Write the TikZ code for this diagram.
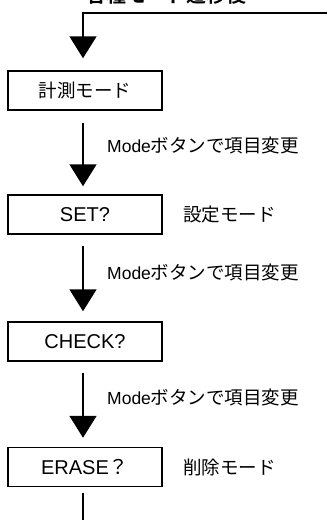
\documentclass[tikz,border=0pt]{standalone}
\usepackage{fontspec}
\setmainfont{Liberation Sans}
\newfontfamily\jp{Noto Sans CJK JP}
\newfontfamily\jpb{Noto Sans CJK JP Bold}
\usetikzlibrary{arrows.meta}
\begin{document}
\begin{tikzpicture}[x=1pt,y=-1pt,
  modebox/.style={draw,line width=1.5pt,minimum width=154pt,minimum height=39pt,inner sep=0pt,font=\fontsize{20}{23}\selectfont},
  flow/.style={line width=2pt,-{Triangle[width=27pt,length=22pt]}},
  plain/.style={line width=2pt},
  note/.style={anchor=west,inner sep=0pt,font=\fontsize{18.5}{22}\selectfont}]
\useasboundingbox[fill=white] (0,0) rectangle (327,520);
\node[anchor=south,inner sep=0pt,font=\jpb\fontsize{20}{24}\selectfont] (top) at (166.5,4.5) {各種モード遷移後};
\node[modebox] (b1) at (85,90.5) {\jp\fontsize{18.5}{22}\selectfont 計測モード};
\node[modebox] (b2) at (85,214.5) {SET?};
\node[modebox] (b3) at (85,341.5) {CHECK?};
\node[modebox] (b4) at (85,467) {ERASE{\jp ？}};
\node[note] (s2) at (183,215) {\jp 設定モード};
\node[note] (s4) at (183,467) {\jp 削除モード};
\node[note] (l1) at (107,145) {{\fontsize{17.5}{20}\selectfont Mode}\jp ボタンで項目変更};
\node[note] (l2) at (107,272) {{\fontsize{17.5}{20}\selectfont Mode}\jp ボタンで項目変更};
\node[note] (l3) at (107,397) {{\fontsize{17.5}{20}\selectfont Mode}\jp ボタンで項目変更};
\coordinate (rt) at (330,12.7);
\coordinate (cn) at (83,12.7);
\coordinate (bt) at (83,525);
\draw[flow] (rt) -- (cn) -- ([xshift=-2pt,yshift=12pt]b1.north);
\draw[flow] ([xshift=-2pt,yshift=-12pt]b1.south) -- ([xshift=-2pt,yshift=8pt]b2.north);
\draw[flow] ([xshift=-2pt,yshift=-11pt]b2.south) -- ([xshift=-2pt,yshift=10pt]b3.north);
\draw[flow] ([xshift=-2pt,yshift=-11pt]b3.south) -- ([xshift=-2pt,yshift=9pt]b4.north);
\draw[plain] ([xshift=-2pt,yshift=-6pt]b4.south) -- (bt);
\end{tikzpicture}
\end{document}
